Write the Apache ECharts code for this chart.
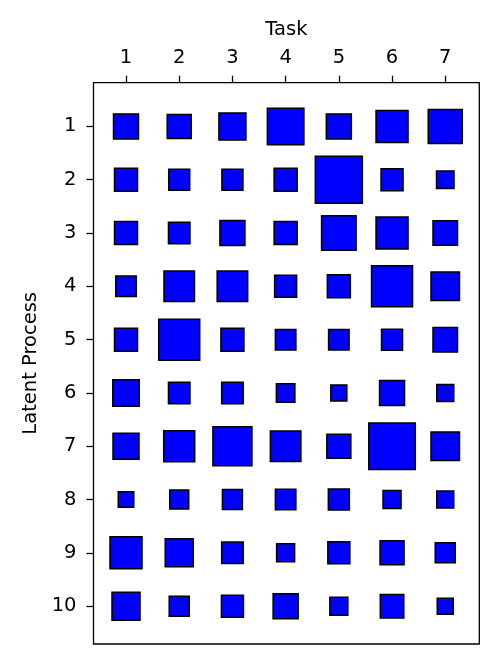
<!DOCTYPE html>
<html>
<head>
<meta charset="utf-8">
<script src="https://cdn.jsdelivr.net/npm/echarts@6/dist/echarts.min.js"></script>
<style>
  html, body { margin: 0; padding: 0; background: #fff; }
  #chart { width: 498px; height: 663px; }
</style>
</head>
<body>
<div id="chart"></div>
<script>
// tasks along the top, latent processes down the side
const tasks = [1, 2, 3, 4, 5, 6, 7]
const processes = [1, 2, 3, 4, 5, 6, 7, 8, 9, 10]

// relative weight of each latent process per task (row = process, col = task)
const w1 = [0.53, 0.51, 0.57, 0.76, 0.53, 0.67, 0.71]
const w2 = [0.49, 0.45, 0.45, 0.49, 0.97, 0.47, 0.38]
const w3 = [0.49, 0.46, 0.53, 0.49, 0.72, 0.67, 0.52]
const w4 = [0.44, 0.64, 0.64, 0.47, 0.49, 0.85, 0.60]
const w5 = [0.49, 0.85, 0.49, 0.44, 0.44, 0.45, 0.52]
const w6 = [0.56, 0.46, 0.46, 0.40, 0.35, 0.53, 0.37]
const w7 = [0.55, 0.65, 0.81, 0.64, 0.51, 0.96, 0.60]
const w8 = [0.34, 0.41, 0.43, 0.44, 0.45, 0.39, 0.37]
const w9 = [0.67, 0.59, 0.46, 0.39, 0.47, 0.51, 0.43]
const w10 = [0.59, 0.43, 0.47, 0.53, 0.39, 0.50, 0.35]
const weights = [w1, w2, w3, w4, w5, w6, w7, w8, w9, w10]

let points = []
weights.forEach(function (row, r) {
    row.forEach(function (v, c) {
        points.push([tasks[c], processes[r], v])
    })
})

const font = 'DejaVu Sans'
const fontSize = 19.5
const border = 1.5

let chart = echarts.init(document.getElementById('chart'), null, { renderer: 'canvas' })
chart.setOption({
    animation: false,
    grid: {
        left: 93.5,
        right: 18.7,
        top: 82.7,
        bottom: 19,
        show: true,
        borderColor: '#000',
        borderWidth: 1.3,
        backgroundColor: 'transparent'
    },
    xAxis: {
        type: 'value',
        position: 'top',
        min: 0.389,
        max: 7.64,
        name: 'Task',
        nameLocation: 'middle',
        nameGap: 43,
        nameTextStyle: { color: '#000', fontSize: fontSize, fontFamily: font },
        axisLine: { show: false },
        splitLine: { show: false },
        axisTick: {
            show: true,
            length: 7,
            customValues: tasks,
            lineStyle: { color: '#000', width: 1.3 }
        },
        axisLabel: {
            customValues: tasks,
            margin: 15,
            color: '#000',
            fontSize: fontSize,
            fontFamily: font
        }
    },
    yAxis: {
        type: 'value',
        inverse: true,
        min: 0.18,
        max: 10.71,
        name: 'Latent Process',
        nameLocation: 'middle',
        nameGap: 52,
        nameRotate: 90,
        nameTextStyle: { color: '#000', fontSize: fontSize, fontFamily: font },
        axisLine: { show: false },
        splitLine: { show: false },
        axisTick: {
            show: true,
            length: 7,
            customValues: processes,
            lineStyle: { color: '#000', width: 1.3 }
        },
        axisLabel: {
            customValues: processes,
            margin: 17,
            color: '#000',
            fontSize: fontSize,
            fontFamily: font
        }
    },
    series: [
        {
            type: 'scatter',
            symbol: 'rect',
            symbolSize: function (d) {
                return d[2] * 50 - border
            },
            itemStyle: {
                color: '#0000ff',
                borderColor: '#000',
                borderWidth: border,
                opacity: 1
            },
            data: points
        }
    ]
})
</script>
</body>
</html>
